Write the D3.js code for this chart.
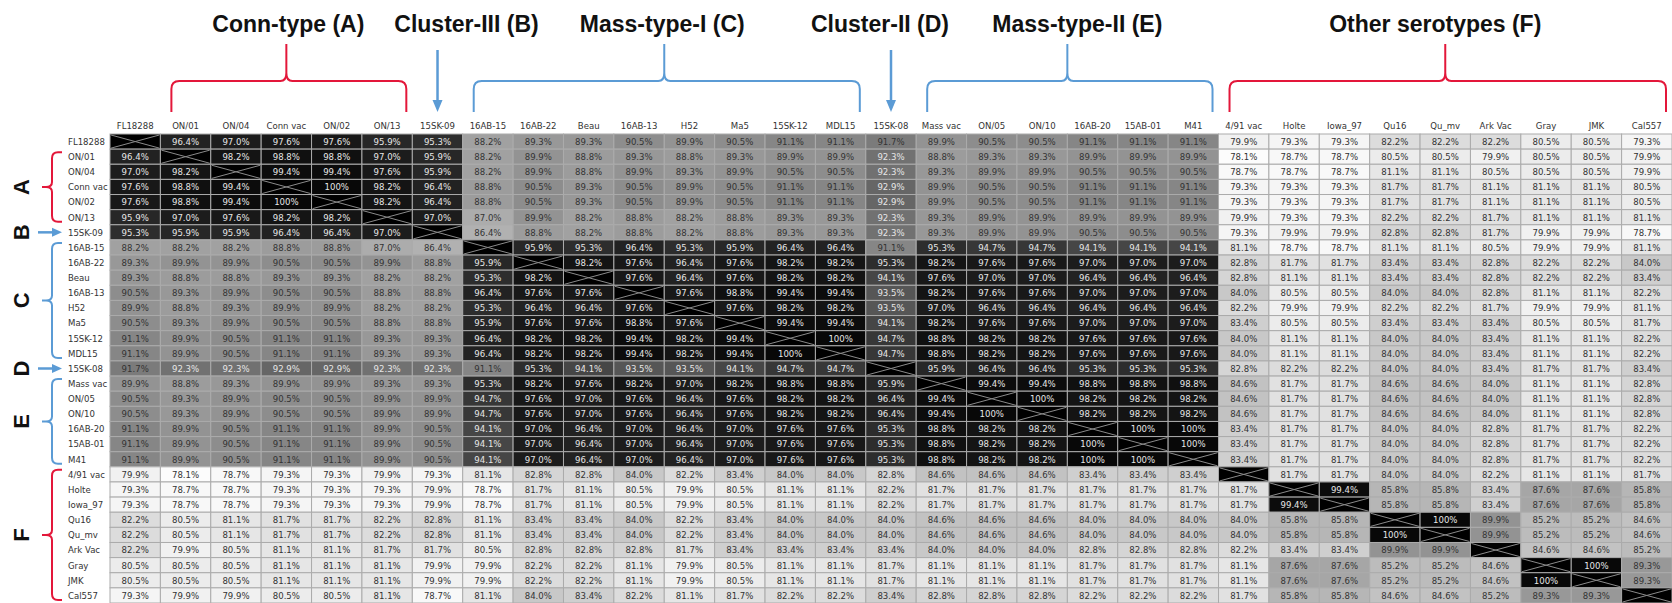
<!DOCTYPE html>
<html>
<head>
<meta charset="utf-8">
<script src="https://cdn.jsdelivr.net/npm/d3@7"></script>
<style>
  body { margin: 0; background: #fff; }
  svg text { font-family: "DejaVu Sans Condensed", "DejaVu Sans", sans-serif; }
</style>
</head>
<body>
<div id="chart"></div>
<script>
// strain names (rows and columns share the same order)
const strains = [
  "FL18288", "ON/01", "ON/04", "Conn vac", "ON/02", "ON/13", "15SK-09",
  "16AB-15", "16AB-22", "Beau", "16AB-13", "H52", "Ma5", "15SK-12", "MDL15",
  "15SK-08", "Mass vac", "ON/05", "ON/10", "16AB-20", "15AB-01", "M41",
  "4/91 vac", "Holte", "Iowa_97", "Qu16", "Qu_mv", "Ark Vac", "Gray", "JMK", "Cal557"
];

// percent identity, lower triangle (row i has values for columns 0..i-1)
const identityLower = [
  [],
  [96.4],
  [97.0, 98.2],
  [97.6, 98.8, 99.4],
  [97.6, 98.8, 99.4, 100],
  [95.9, 97.0, 97.6, 98.2, 98.2],
  [95.3, 95.9, 95.9, 96.4, 96.4, 97.0],
  [88.2, 88.2, 88.2, 88.8, 88.8, 87.0, 86.4],
  [89.3, 89.9, 89.9, 90.5, 90.5, 89.9, 88.8, 95.9],
  [89.3, 88.8, 88.8, 89.3, 89.3, 88.2, 88.2, 95.3, 98.2],
  [90.5, 89.3, 89.9, 90.5, 90.5, 88.8, 88.8, 96.4, 97.6, 97.6],
  [89.9, 88.8, 89.3, 89.9, 89.9, 88.2, 88.2, 95.3, 96.4, 96.4, 97.6],
  [90.5, 89.3, 89.9, 90.5, 90.5, 88.8, 88.8, 95.9, 97.6, 97.6, 98.8, 97.6],
  [91.1, 89.9, 90.5, 91.1, 91.1, 89.3, 89.3, 96.4, 98.2, 98.2, 99.4, 98.2, 99.4],
  [91.1, 89.9, 90.5, 91.1, 91.1, 89.3, 89.3, 96.4, 98.2, 98.2, 99.4, 98.2, 99.4, 100],
  [91.7, 92.3, 92.3, 92.9, 92.9, 92.3, 92.3, 91.1, 95.3, 94.1, 93.5, 93.5, 94.1, 94.7, 94.7],
  [89.9, 88.8, 89.3, 89.9, 89.9, 89.3, 89.3, 95.3, 98.2, 97.6, 98.2, 97.0, 98.2, 98.8, 98.8, 95.9],
  [90.5, 89.3, 89.9, 90.5, 90.5, 89.9, 89.9, 94.7, 97.6, 97.0, 97.6, 96.4, 97.6, 98.2, 98.2, 96.4, 99.4],
  [90.5, 89.3, 89.9, 90.5, 90.5, 89.9, 89.9, 94.7, 97.6, 97.0, 97.6, 96.4, 97.6, 98.2, 98.2, 96.4, 99.4, 100],
  [91.1, 89.9, 90.5, 91.1, 91.1, 89.9, 90.5, 94.1, 97.0, 96.4, 97.0, 96.4, 97.0, 97.6, 97.6, 95.3, 98.8, 98.2, 98.2],
  [91.1, 89.9, 90.5, 91.1, 91.1, 89.9, 90.5, 94.1, 97.0, 96.4, 97.0, 96.4, 97.0, 97.6, 97.6, 95.3, 98.8, 98.2, 98.2, 100],
  [91.1, 89.9, 90.5, 91.1, 91.1, 89.9, 90.5, 94.1, 97.0, 96.4, 97.0, 96.4, 97.0, 97.6, 97.6, 95.3, 98.8, 98.2, 98.2, 100, 100],
  [79.9, 78.1, 78.7, 79.3, 79.3, 79.9, 79.3, 81.1, 82.8, 82.8, 84.0, 82.2, 83.4, 84.0, 84.0, 82.8, 84.6, 84.6, 84.6, 83.4, 83.4, 83.4],
  [79.3, 78.7, 78.7, 79.3, 79.3, 79.3, 79.9, 78.7, 81.7, 81.1, 80.5, 79.9, 80.5, 81.1, 81.1, 82.2, 81.7, 81.7, 81.7, 81.7, 81.7, 81.7, 81.7],
  [79.3, 78.7, 78.7, 79.3, 79.3, 79.3, 79.9, 78.7, 81.7, 81.1, 80.5, 79.9, 80.5, 81.1, 81.1, 82.2, 81.7, 81.7, 81.7, 81.7, 81.7, 81.7, 81.7, 99.4],
  [82.2, 80.5, 81.1, 81.7, 81.7, 82.2, 82.8, 81.1, 83.4, 83.4, 84.0, 82.2, 83.4, 84.0, 84.0, 84.0, 84.6, 84.6, 84.6, 84.0, 84.0, 84.0, 84.0, 85.8, 85.8],
  [82.2, 80.5, 81.1, 81.7, 81.7, 82.2, 82.8, 81.1, 83.4, 83.4, 84.0, 82.2, 83.4, 84.0, 84.0, 84.0, 84.6, 84.6, 84.6, 84.0, 84.0, 84.0, 84.0, 85.8, 85.8, 100],
  [82.2, 79.9, 80.5, 81.1, 81.1, 81.7, 81.7, 80.5, 82.8, 82.8, 82.8, 81.7, 83.4, 83.4, 83.4, 83.4, 84.0, 84.0, 84.0, 82.8, 82.8, 82.8, 82.2, 83.4, 83.4, 89.9, 89.9],
  [80.5, 80.5, 80.5, 81.1, 81.1, 81.1, 79.9, 79.9, 82.2, 82.2, 81.1, 79.9, 80.5, 81.1, 81.1, 81.7, 81.1, 81.1, 81.1, 81.7, 81.7, 81.7, 81.1, 87.6, 87.6, 85.2, 85.2, 84.6],
  [80.5, 80.5, 80.5, 81.1, 81.1, 81.1, 79.9, 79.9, 82.2, 82.2, 81.1, 79.9, 80.5, 81.1, 81.1, 81.7, 81.1, 81.1, 81.1, 81.7, 81.7, 81.7, 81.1, 87.6, 87.6, 85.2, 85.2, 84.6, 100],
  [79.3, 79.9, 79.9, 80.5, 80.5, 81.1, 78.7, 81.1, 84.0, 83.4, 82.2, 81.1, 81.7, 82.2, 82.2, 83.4, 82.8, 82.8, 82.8, 82.2, 82.2, 82.2, 81.7, 85.8, 85.8, 84.6, 84.6, 85.2, 89.3, 89.3]
];

// groups of strains
const groupTitles = ["Conn-type (A)", "Cluster-III (B)", "Mass-type-I (C)", "Cluster-II (D)", "Mass-type-II (E)", "Other serotypes (F)"];
const groupLetters = ["A", "B", "C", "D", "E", "F"];
const groupFirst = ["ON/01", "15SK-09", "16AB-15", "15SK-08", "Mass vac", "4/91 vac"];
const groupLast = ["ON/13", "15SK-09", "MDL15", "15SK-08", "M41", "Cal557"];

const red = "#e3173a";
const blue = "#5b9bd5";
const groupColor = { A: red, B: blue, C: blue, D: blue, E: blue, F: red };
const titleShift = { A: 2, B: 29, C: -2, D: -11, E: 10, F: -10 };

const width = 1672;
const height = 603;

const svg = d3
  .select("#chart")
  .append("svg")
  .attr("width", width)
  .attr("height", height);

const x = d3.scaleBand().domain(strains).range([110, 1672]);
const y = d3.scaleBand().domain(strains).range([134, 603]);
const bw = x.bandwidth();
const bh = y.bandwidth();

function identity(i, j) {
  if (i === j) return null;
  return i > j ? identityLower[i][j] : identityLower[j][i];
}

const cells = [];
strains.forEach((r, i) => {
  strains.forEach((c, j) => {
    cells.push({ row: r, col: c, v: identity(i, j) });
  });
});

// grey ramp, light for low identity and black for high
const grey = d3
  .scaleLinear()
  .domain([78, 80, 82, 84, 86, 88, 90, 91, 92, 93, 94, 95, 97, 100])
  .range([253, 240, 222, 200, 180, 163, 146, 136, 118, 100, 72, 48, 28, 8])
  .clamp(true);

function cellFill(d) {
  if (d.v === null) return "#000";
  const g = Math.round(grey(d.v));
  return d3.rgb(g, g, g).formatHex();
}

// cells
svg
  .append("g")
  .selectAll("rect")
  .data(cells)
  .enter()
  .append("rect")
  .attr("x", (d) => x(d.col))
  .attr("y", (d) => y(d.row))
  .attr("width", bw)
  .attr("height", bh)
  .style("fill", cellFill)
  .style("stroke", "#ababab")
  .style("stroke-width", 1);

// crosses on the diagonal
const diag = cells.filter((d) => d.v === null);
const cross = svg.append("g").style("stroke", "#8a8a8a").style("stroke-width", 1);
cross
  .selectAll(".d1")
  .data(diag)
  .enter()
  .append("line")
  .attr("x1", (d) => x(d.col) + 1)
  .attr("y1", (d) => y(d.row) + 1)
  .attr("x2", (d) => x(d.col) + bw - 1)
  .attr("y2", (d) => y(d.row) + bh - 1);
cross
  .selectAll(".d2")
  .data(diag)
  .enter()
  .append("line")
  .attr("x1", (d) => x(d.col) + 1)
  .attr("y1", (d) => y(d.row) + bh - 1)
  .attr("x2", (d) => x(d.col) + bw - 1)
  .attr("y2", (d) => y(d.row) + 1);

// values
svg
  .append("g")
  .selectAll("text")
  .data(cells.filter((d) => d.v !== null))
  .enter()
  .append("text")
  .attr("x", (d) => x(d.col) + bw / 2)
  .attr("y", (d) => y(d.row) + bh / 2)
  .attr("dy", "0.35em")
  .style("text-anchor", "middle")
  .style("font-size", "9.5px")
  .style("fill", (d) => (d.v >= 92 ? "#e6e6e6" : "#333"))
  .text((d) => (d.v === 100 ? "100%" : d.v.toFixed(1) + "%"));

// column labels
svg
  .append("g")
  .selectAll("text")
  .data(strains)
  .enter()
  .append("text")
  .attr("x", (d) => x(d) + bw / 2)
  .attr("y", 129)
  .style("text-anchor", "middle")
  .style("font-size", "9.5px")
  .style("fill", "#333")
  .text((d) => d);

// row labels
svg
  .append("g")
  .selectAll("text")
  .data(strains)
  .enter()
  .append("text")
  .attr("x", 68)
  .attr("y", (d) => y(d) + bh / 2)
  .attr("dy", "0.35em")
  .style("font-size", "9.5px")
  .style("fill", "#333")
  .text((d) => d);

// annotations
const topG = svg.append("g");
const leftG = svg.append("g");

groupLetters.forEach((letter, k) => {
  const color = groupColor[letter];
  const x0 = x(groupFirst[k]);
  const x1 = x(groupLast[k]) + bw;
  const xm = (x0 + x1) / 2;
  const y0 = y(groupFirst[k]);
  const y1 = y(groupLast[k]) + bh;
  const ym = (y0 + y1) / 2;
  const single = groupFirst[k] === groupLast[k];

  // title above the columns
  topG
    .append("text")
    .attr("x", xm + titleShift[letter])
    .attr("y", 32)
    .style("text-anchor", "middle")
    .style("font-family", "'Liberation Sans', Arial, sans-serif")
    .style("font-weight", "bold")
    .style("font-size", "23px")
    .style("fill", "#111")
    .text(groupTitles[k]);

  // letter on the left
  leftG
    .append("text")
    .attr("transform", "translate(29," + ym + ") rotate(-90)")
    .style("text-anchor", "middle")
    .style("font-family", "'Liberation Sans', Arial, sans-serif")
    .style("font-weight", "bold")
    .style("font-size", "22px")
    .style("fill", "#111")
    .text(letter);

  if (single) {
    // downward arrow on top
    topG
      .append("line")
      .attr("x1", xm)
      .attr("x2", xm)
      .attr("y1", 50)
      .attr("y2", 102)
      .style("stroke", color)
      .style("stroke-width", 2.5);
    topG
      .append("path")
      .attr("d", `M${xm - 5},100 L${xm + 5},100 L${xm},112 Z`)
      .style("fill", color);
    // right-pointing arrow on the left
    leftG
      .append("line")
      .attr("x1", 38)
      .attr("x2", 54)
      .attr("y1", ym)
      .attr("y2", ym)
      .style("stroke", color)
      .style("stroke-width", 2.5);
    leftG
      .append("path")
      .attr("d", `M52,${ym - 4.5} L52,${ym + 4.5} L62,${ym} Z`)
      .style("fill", color);
  } else {
    // horizontal brace over the columns
    const a = x0 + 11;
    const b = x1 - 6;
    const by = 81;
    topG
      .append("path")
      .attr(
        "d",
        `M${a},112 L${a},${by + 8} Q${a},${by} ${a + 8},${by} L${xm - 6},${by} ` +
          `Q${xm},${by} ${xm},${by - 8} L${xm},44 L${xm},${by - 8} Q${xm},${by} ${xm + 6},${by} ` +
          `L${b - 8},${by} Q${b},${by} ${b},${by + 8} L${b},112`
      )
      .style("fill", "none")
      .style("stroke", color)
      .style("stroke-width", 2);
    // vertical brace beside the rows
    const c = y0 + 3;
    const e = y1 - 3;
    const bx = 52;
    leftG
      .append("path")
      .attr(
        "d",
        `M62,${c} L${bx + 6},${c} Q${bx},${c} ${bx},${c + 6} L${bx},${ym - 5} ` +
          `Q${bx},${ym} ${bx - 6},${ym} L42,${ym} L${bx - 6},${ym} Q${bx},${ym} ${bx},${ym + 5} ` +
          `L${bx},${e - 6} Q${bx},${e} ${bx + 6},${e} L62,${e}`
      )
      .style("fill", "none")
      .style("stroke", color)
      .style("stroke-width", 2);
  }
});
</script>
</body>
</html>
